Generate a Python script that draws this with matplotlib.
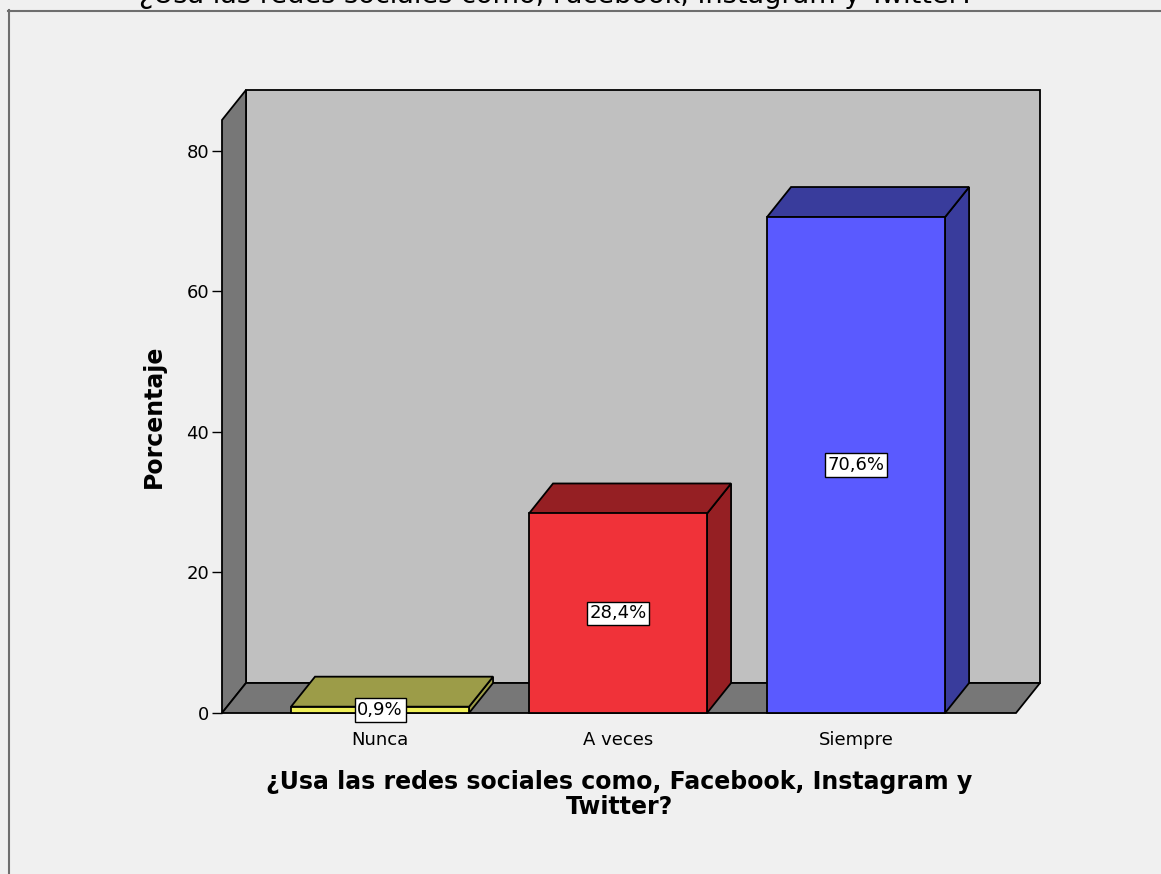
import matplotlib
matplotlib.use('Agg')
import matplotlib.pyplot as plt
from matplotlib.patches import Polygon
from matplotlib.lines import Line2D

# ---- data ----
categories = ['Nunca', 'A veces', 'Siempre']
percentages = [0.9, 28.4, 70.6]
value_labels = ['0,9%', '28,4%', '70,6%']
yticks = [0, 20, 40, 60, 80]
title = '¿Usa las redes sociales como, Facebook, Instagram y Twitter?'
xlabel = '¿Usa las redes sociales como, Facebook, Instagram y\nTwitter?'
ylabel = 'Porcentaje'

# ---- style ----
front_colors = ['#f0f05a', '#f03239', '#5a5aff']
dark_colors = ['#9c9c48', '#951f23', '#393c9c']
BG = '#f0f0f0'
BACK_WALL = '#c0c0c0'
SIDE_WALL = '#777777'
EDGE_LW = 1.3
BAR_WIDTH = 0.748
DPX, DPY = 24, 30  # 3D depth offset in pixels

plt.rcParams['font.family'] = ['DejaVu Sans']

W, H = 1161, 874
fig = plt.figure(figsize=(W / 100, H / 100), dpi=100)
fig.patch.set_facecolor(BG)

ax = fig.add_axes([222 / W, 1 - 713 / H, (1016 - 222) / W, (713 - 120) / H])
ax.set_xlim(-0.664, 2.672)
ax.set_ylim(0, 84.41)
ax.patch.set_visible(False)
for s in ax.spines.values():
    s.set_visible(False)


def shift(x, y):
    d = ax.transData.transform((x, y))
    return tuple(ax.transData.inverted().transform((d[0] + DPX, d[1] + DPY)))


def poly(pts, fc, z):
    p = Polygon(pts, closed=True, facecolor=fc, edgecolor='black',
                linewidth=EDGE_LW, clip_on=False, zorder=z, joinstyle='miter')
    ax.add_patch(p)


x0, x1 = ax.get_xlim()
y0, y1 = ax.get_ylim()

# walls
poly([shift(x0, y0), shift(x1, y0), shift(x1, y1), shift(x0, y1)], BACK_WALL, 1)
poly([(x0, y0), (x0, y1), shift(x0, y1), shift(x0, y0)], SIDE_WALL, 2)
poly([(x0, y0), (x1, y0), shift(x1, y0), shift(x0, y0)], SIDE_WALL, 2)

# bars
for i, (v, fc, dc) in enumerate(zip(percentages, front_colors, dark_colors)):
    l, r = i - BAR_WIDTH / 2, i + BAR_WIDTH / 2
    z = 3 + i
    poly([(r, 0), (r, v), shift(r, v), shift(r, 0)], dc, z)
    poly([(l, v), (r, v), shift(r, v), shift(l, v)], dc, z)
    poly([(l, 0), (r, 0), (r, v), (l, v)], fc, z)

for i, (v, lab) in enumerate(zip(percentages, value_labels)):
    ax.text(i, v / 2, lab, ha='center', va='center', fontsize=13, zorder=10,
            bbox=dict(boxstyle='square,pad=0.15', facecolor='white',
                      edgecolor='black', linewidth=1.0), clip_on=False)

# axes ticks
ax.set_yticks(yticks)
ax.set_yticklabels([str(t) for t in yticks])
ax.tick_params(axis='y', length=7.2, width=1.0, color='black', labelsize=13, pad=2)
ax.set_xticks(range(len(categories)))
ax.set_xticklabels(categories)
ax.tick_params(axis='x', length=0, labelsize=13, pad=13)

ax.set_ylabel(ylabel, fontsize=17, fontweight='bold')
ax.yaxis.set_label_coords((166 - 222) / 794, 0.5)
ax.set_xlabel(xlabel, fontsize=17, fontweight='bold', linespacing=1.05)
ax.xaxis.set_label_coords(0.5, (713 - 770) / 593)

# cut-off title at top (only its lower edge is visible, as in the reference)
fig.text(557 / W, 1 - 3 / H, title, ha='center', va='baseline', fontsize=19.5)

# frame border lines
fig.add_artist(Line2D([8.5 / W, 8.5 / W], [0, 1 - 10 / H], color='#6e6e6e',
                      linewidth=1.5, transform=fig.transFigure))
fig.add_artist(Line2D([8 / W, 1], [1 - 10.5 / H, 1 - 10.5 / H], color='#6e6e6e',
                      linewidth=1.5, transform=fig.transFigure))

fig.savefig('out.png', dpi=100, facecolor=BG)
